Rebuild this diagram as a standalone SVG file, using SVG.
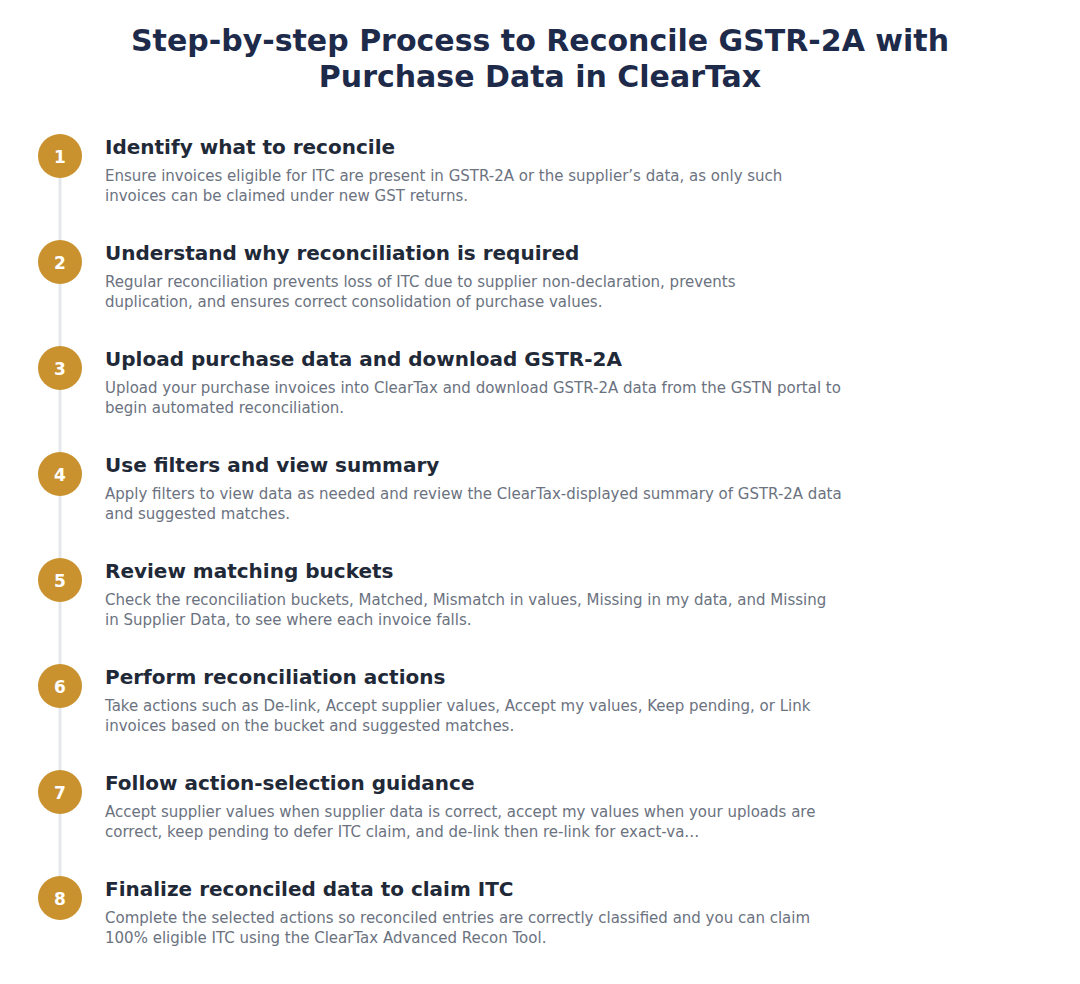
<svg xmlns="http://www.w3.org/2000/svg" width="1080" height="984" viewBox="0 0 1080 984">
<style>
.title{font-family:"DejaVu Sans",sans-serif;font-weight:bold;font-size:30px;fill:#1e2a4a;text-anchor:middle}
.num{font-family:"DejaVu Sans",sans-serif;font-weight:bold;font-size:17px;fill:#ffffff;text-anchor:middle}
.h{font-family:"DejaVu Sans",sans-serif;font-weight:bold;font-size:20px;fill:#1f2937}
.d{font-family:"DejaVu Sans",sans-serif;font-size:15px;fill:#6b7280}
.c{fill:#c9922e}
</style>
<rect width="1080" height="984" fill="#ffffff"/>
<text class="title" x="540" y="51">Step-by-step Process to Reconcile GSTR-2A with</text>
<text class="title" x="540" y="87">Purchase Data in ClearTax</text>
<g id="connectors">
<line x1="60" y1="156" x2="60" y2="898" stroke="#e5e7eb" stroke-width="3"/>
</g>
<g id="step1"><circle class="c" cx="60" cy="156" r="22"/><text class="num" x="60" y="163">1</text>
<text class="h" x="105" y="154">Identify what to reconcile</text>
<text class="d" x="105" y="181">Ensure invoices eligible for ITC are present in GSTR-2A or the supplier’s data, as only such</text>
<text class="d" x="105" y="201">invoices can be claimed under new GST returns.</text></g>
<g id="step2"><circle class="c" cx="60" cy="262" r="22"/><text class="num" x="60" y="269">2</text>
<text class="h" x="105" y="260">Understand why reconciliation is required</text>
<text class="d" x="105" y="287">Regular reconciliation prevents loss of ITC due to supplier non-declaration, prevents</text>
<text class="d" x="105" y="307">duplication, and ensures correct consolidation of purchase values.</text></g>
<g id="step3"><circle class="c" cx="60" cy="368" r="22"/><text class="num" x="60" y="375">3</text>
<text class="h" x="105" y="366">Upload purchase data and download GSTR-2A</text>
<text class="d" x="105" y="393">Upload your purchase invoices into ClearTax and download GSTR-2A data from the GSTN portal to</text>
<text class="d" x="105" y="413">begin automated reconciliation.</text></g>
<g id="step4"><circle class="c" cx="60" cy="474" r="22"/><text class="num" x="60" y="481">4</text>
<text class="h" x="105" y="472">Use filters and view summary</text>
<text class="d" x="105" y="499">Apply filters to view data as needed and review the ClearTax-displayed summary of GSTR-2A data</text>
<text class="d" x="105" y="519">and suggested matches.</text></g>
<g id="step5"><circle class="c" cx="60" cy="580" r="22"/><text class="num" x="60" y="587">5</text>
<text class="h" x="105" y="578">Review matching buckets</text>
<text class="d" x="105" y="605">Check the reconciliation buckets, Matched, Mismatch in values, Missing in my data, and Missing</text>
<text class="d" x="105" y="625">in Supplier Data, to see where each invoice falls.</text></g>
<g id="step6"><circle class="c" cx="60" cy="686" r="22"/><text class="num" x="60" y="693">6</text>
<text class="h" x="105" y="684">Perform reconciliation actions</text>
<text class="d" x="105" y="711">Take actions such as De-link, Accept supplier values, Accept my values, Keep pending, or Link</text>
<text class="d" x="105" y="731">invoices based on the bucket and suggested matches.</text></g>
<g id="step7"><circle class="c" cx="60" cy="792" r="22"/><text class="num" x="60" y="799">7</text>
<text class="h" x="105" y="790">Follow action-selection guidance</text>
<text class="d" x="105" y="817">Accept supplier values when supplier data is correct, accept my values when your uploads are</text>
<text class="d" x="105" y="837">correct, keep pending to defer ITC claim, and de-link then re-link for exact-va…</text></g>
<g id="step8"><circle class="c" cx="60" cy="898" r="22"/><text class="num" x="60" y="905">8</text>
<text class="h" x="105" y="896">Finalize reconciled data to claim ITC</text>
<text class="d" x="105" y="923">Complete the selected actions so reconciled entries are correctly classified and you can claim</text>
<text class="d" x="105" y="943">100% eligible ITC using the ClearTax Advanced Recon Tool.</text></g>
</svg>
